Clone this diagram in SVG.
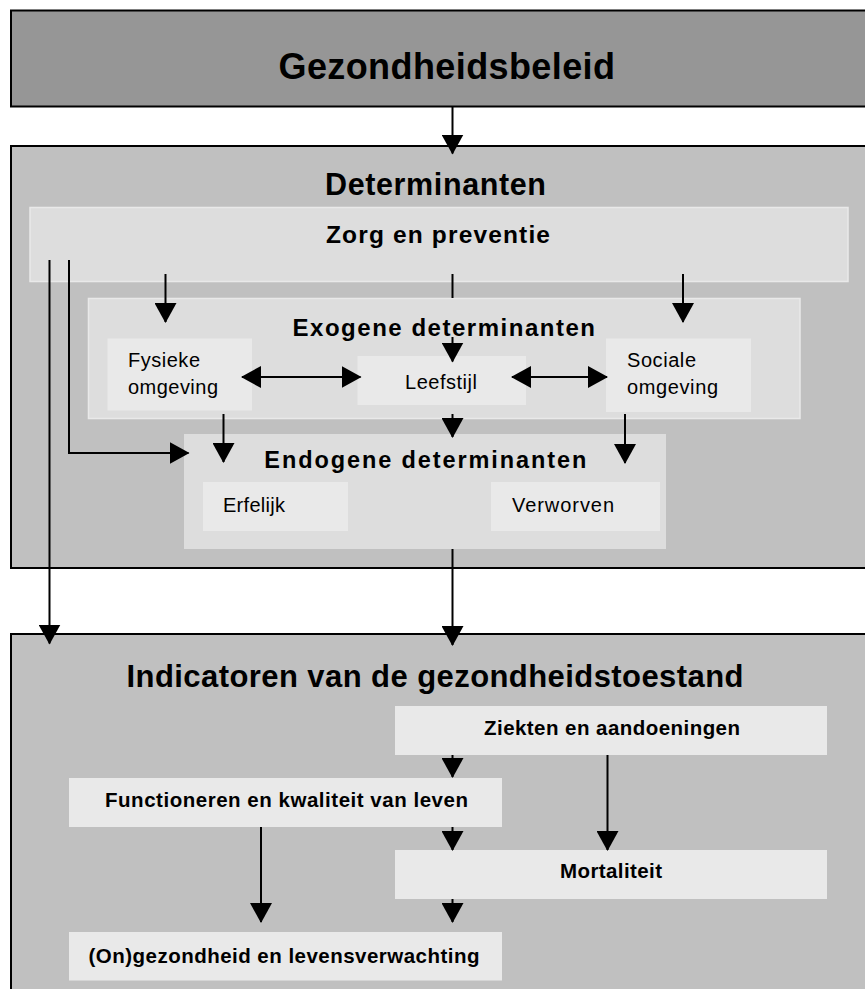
<svg xmlns="http://www.w3.org/2000/svg" width="865" height="989" viewBox="0 0 865 989">
<style>
text{font-family:"Liberation Sans",Arial,Helvetica,sans-serif;fill:#000}
.b{font-weight:bold}
.outer{fill:#c0c0c0;stroke:#000;stroke-width:2}
.mid{fill:#dddddd;stroke:#e9e9e9;stroke-width:1.5}
.midn{fill:#dddddd}
.inner{fill:#e9e9e9}
.c{fill:none;stroke:#000;stroke-width:2}
</style>
<defs>
<marker id="ah" markerUnits="userSpaceOnUse" markerWidth="20" markerHeight="22" refX="19" refY="11" orient="auto-start-reverse" viewBox="0 0 20 22">
<path d="M0,0 L20,11 L0,22 z" fill="#000"/>
</marker>
</defs>

<g id="gezondheidsbeleid">
<rect x="11" y="10.5" width="900" height="96" fill="#969696" stroke="#000" stroke-width="2"/>
<text class="b" x="278.5" y="79" font-size="36" textLength="336.5" lengthAdjust="spacing">Gezondheidsbeleid</text>
</g>

<g id="determinanten">
<rect class="outer" x="11" y="146" width="900" height="422"/>
<text class="b" x="325" y="195" font-size="30.5" textLength="221" lengthAdjust="spacing">Determinanten</text>
</g>

<g id="zorg-en-preventie">
<rect class="mid" x="30" y="207.5" width="818" height="74"/>
<text class="b" x="326" y="243" font-size="24.5" textLength="224" lengthAdjust="spacing">Zorg en preventie</text>
</g>

<g id="exogene-determinanten">
<rect class="mid" x="88.5" y="298.5" width="711.5" height="120"/>
<text class="b" x="292.5" y="336" font-size="24" textLength="302.5" lengthAdjust="spacing">Exogene determinanten</text>
</g>

<g id="fysieke-omgeving">
<rect class="inner" x="107.5" y="338.5" width="144.5" height="72"/>
<text x="128" y="367" font-size="20" textLength="72" lengthAdjust="spacing">Fysieke</text>
<text x="128" y="394" font-size="20" textLength="90" lengthAdjust="spacing">omgeving</text>
</g>

<g id="leefstijl">
<rect class="inner" x="357.5" y="356" width="168.5" height="49"/>
<text x="405" y="389" font-size="20" textLength="72" lengthAdjust="spacing">Leefstijl</text>
</g>

<g id="sociale-omgeving">
<rect class="inner" x="606" y="338.5" width="145" height="73.5"/>
<text x="627" y="367" font-size="20" textLength="69" lengthAdjust="spacing">Sociale</text>
<text x="627" y="394" font-size="20" textLength="91" lengthAdjust="spacing">omgeving</text>
</g>

<g id="endogene-determinanten">
<rect class="midn" x="184" y="434" width="482" height="115"/>
<text class="b" x="264.3" y="468" font-size="23.5" textLength="322" lengthAdjust="spacing">Endogene determinanten</text>
</g>

<g id="erfelijk">
<rect class="inner" x="203" y="482" width="145" height="49"/>
<text x="223" y="512" font-size="20" textLength="62" lengthAdjust="spacing">Erfelijk</text>
</g>

<g id="verworven">
<rect class="inner" x="491" y="482" width="169" height="49"/>
<text x="512" y="512" font-size="20" textLength="102" lengthAdjust="spacing">Verworven</text>
</g>

<g id="indicatoren">
<rect class="outer" x="11" y="634" width="900" height="400"/>
<text class="b" x="126.5" y="687" font-size="31" textLength="617" lengthAdjust="spacing">Indicatoren van de gezondheidstoestand</text>
</g>

<g id="ziekten-en-aandoeningen">
<rect class="inner" x="395" y="706" width="432" height="49"/>
<text class="b" x="484" y="735" font-size="20.5" textLength="256" lengthAdjust="spacing">Ziekten en aandoeningen</text>
</g>

<g id="functioneren">
<rect class="inner" x="69" y="778" width="433" height="49"/>
<text class="b" x="105" y="807" font-size="20.5" textLength="363" lengthAdjust="spacing">Functioneren en kwaliteit van leven</text>
</g>

<g id="mortaliteit">
<rect class="inner" x="395" y="850" width="432" height="49"/>
<text class="b" x="560" y="878" font-size="20.5" textLength="102" lengthAdjust="spacing">Mortaliteit</text>
</g>

<g id="ongezondheid">
<rect class="inner" x="69" y="932" width="433" height="48.5"/>
<text class="b" x="88.5" y="963" font-size="20.5" textLength="391" lengthAdjust="spacing">(On)gezondheid en levensverwachting</text>
</g>

<g id="connectors">
<line class="c" x1="452.5" y1="107" x2="452.5" y2="153.5" marker-end="url(#ah)"/>
<line class="c" x1="49.5" y1="260" x2="49.5" y2="643.5" marker-end="url(#ah)"/>
<polyline class="c" points="69,260 69,453 188.5,453" marker-end="url(#ah)"/>
<line class="c" x1="165.5" y1="274" x2="165.5" y2="322" marker-end="url(#ah)"/>
<line class="c" x1="683" y1="274" x2="683" y2="322" marker-end="url(#ah)"/>
<line class="c" x1="452.5" y1="274" x2="452.5" y2="298"/>
<line class="c" x1="452.5" y1="337" x2="452.5" y2="361.5" marker-end="url(#ah)"/>
<line class="c" x1="242" y1="377" x2="360.5" y2="377" marker-start="url(#ah)" marker-end="url(#ah)"/>
<line class="c" x1="512" y1="377" x2="607" y2="377" marker-start="url(#ah)" marker-end="url(#ah)"/>
<line class="c" x1="223.5" y1="414" x2="223.5" y2="462" marker-end="url(#ah)"/>
<line class="c" x1="452.5" y1="414" x2="452.5" y2="437" marker-end="url(#ah)"/>
<line class="c" x1="625" y1="414" x2="625" y2="463" marker-end="url(#ah)"/>
<line class="c" x1="452.5" y1="549" x2="452.5" y2="645" marker-end="url(#ah)"/>
<line class="c" x1="452.5" y1="755" x2="452.5" y2="777" marker-end="url(#ah)"/>
<line class="c" x1="607.5" y1="755" x2="607.5" y2="850" marker-end="url(#ah)"/>
<line class="c" x1="452.5" y1="827" x2="452.5" y2="850" marker-end="url(#ah)"/>
<line class="c" x1="261" y1="827" x2="261" y2="922" marker-end="url(#ah)"/>
<line class="c" x1="452.5" y1="899" x2="452.5" y2="922" marker-end="url(#ah)"/>
</g>
</svg>
